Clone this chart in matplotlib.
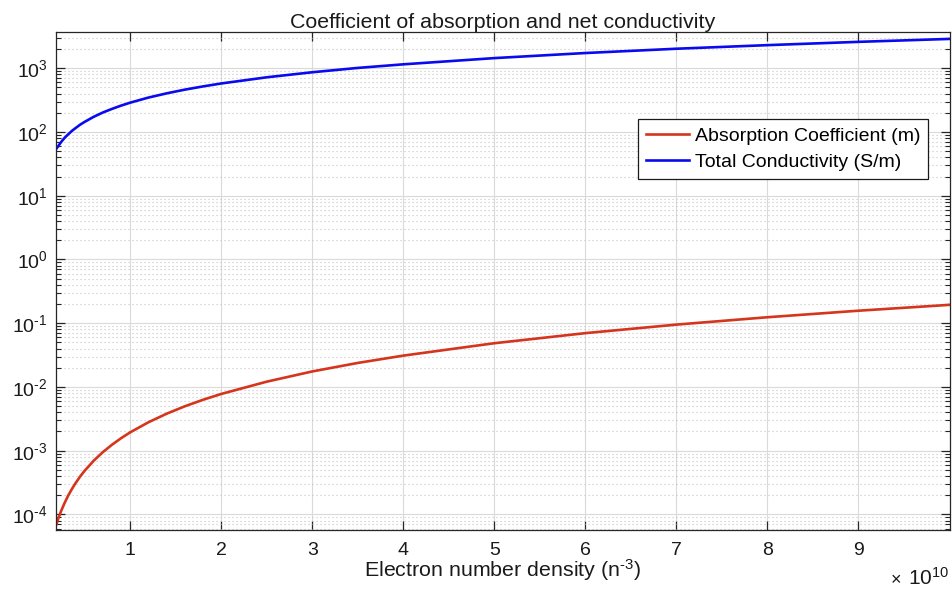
import matplotlib
matplotlib.use("Agg")
import numpy as np
import matplotlib.pyplot as plt
from matplotlib.ticker import LogLocator, FixedLocator, FuncFormatter, NullFormatter

plt.rcParams['font.family'] = ['Liberation Sans', 'DejaVu Sans']
plt.rcParams['mathtext.fontset'] = 'custom'
plt.rcParams['mathtext.rm'] = 'Liberation Sans'
plt.rcParams['mathtext.it'] = 'Liberation Sans:italic'
plt.rcParams['axes.unicode_minus'] = False

# Electron number density (in units of 1e10)
density_e10 = [0.19, 0.21, 0.23, 0.25, 0.28, 0.32, 0.36, 0.40, 0.45, 0.50,
               0.60, 0.70, 0.80, 0.90, 1.0, 1.2, 1.4, 1.6, 1.8, 2.0,
               2.5, 3.0, 3.5, 4.0, 5.0, 6.0, 7.0, 8.0, 9.0, 10.0]

absorption = [7.0e-5, 8.6e-5, 1.03e-4, 1.21e-4, 1.52e-4, 1.99e-4, 2.51e-4, 3.10e-4, 3.93e-4, 4.85e-4,
              6.98e-4, 9.5e-4, 1.24e-3, 1.57e-3, 1.94e-3, 2.79e-3, 3.80e-3, 4.97e-3, 6.29e-3, 7.76e-3,
              1.21e-2, 1.75e-2, 2.38e-2, 3.10e-2, 4.85e-2, 6.98e-2, 9.5e-2, 0.124, 0.157, 0.194]

conductivity = [55, 60, 66, 72, 81, 92, 104, 115, 130, 144,
                173, 202, 230, 259, 288, 346, 403, 461, 518, 576,
                720, 864, 1010, 1150, 1440, 1730, 2020, 2300, 2590, 2880]

x_ticks = [1, 2, 3, 4, 5, 6, 7, 8, 9]
scale = 1e10
density = [d * scale for d in density_e10]

fig = plt.figure(figsize=(9.52, 5.90), dpi=100)
ax = fig.add_axes([0.0593, 0.1017, 0.9381, 0.8441])

ax.plot(density, absorption, color='#d4351c', lw=1.9, label='Absorption Coefficient (m)')
ax.plot(density, conductivity, color='#0a0af0', lw=1.9, label='Total Conductivity (S/m)')

ax.set_yscale('log')
ax.set_xlim(0.19 * scale, 10.0 * scale)
ax.set_ylim(5.7e-5, 3.7e3)


def decade_label(v, pos):
    e = int(round(np.log10(v)))
    if e < 0:
        return r'$\mathdefault{10^{\text{-}%d}}$' % (-e)
    return r'$\mathdefault{10^{%d}}$' % e


ax.xaxis.set_major_locator(FixedLocator([t * scale for t in x_ticks]))
ax.xaxis.set_major_formatter(FuncFormatter(lambda v, _: f"{v / scale:g}"))
ax.yaxis.set_major_locator(LogLocator(base=10, numticks=20))
ax.yaxis.set_major_formatter(FuncFormatter(decade_label))
ax.yaxis.set_minor_locator(LogLocator(base=10, subs=range(2, 10), numticks=20))
ax.yaxis.set_minor_formatter(NullFormatter())
ax.xaxis.offsetText.set_visible(False)
ax.yaxis.offsetText.set_visible(False)

spine_col = '#262626'
for s in ax.spines.values():
    s.set_color(spine_col)
    s.set_linewidth(0.9)

ax.tick_params(which='both', direction='in', top=True, right=True, color=spine_col,
               labelsize=14, labelcolor='#1a1a1a')
ax.tick_params(which='major', length=6.5, width=0.9)
ax.tick_params(axis='x', which='major', pad=8.5)
ax.tick_params(axis='y', which='major', pad=6.5)
ax.tick_params(which='minor', length=3.6, width=0.8)

ax.grid(True, which='major', axis='both', color='#dadada', lw=0.8, ls='-')
ax.grid(True, which='minor', axis='y', color='#c4c4c4', lw=0.8, ls=(0, (1, 2.6)))
ax.set_axisbelow(True)

ax.set_title('Coefficient of absorption and net conductivity', fontsize=15.4, pad=2.5,
             color='#1a1a1a')
ax.set_xlabel(r'Electron number density (n$^{\text{-}3}$)', fontsize=15.4, labelpad=-1,
              color='#1a1a1a')
ax.text(0.9455, -0.111, '\u00d7', transform=ax.transAxes,
        ha='right', va='baseline', fontsize=13, color='#1a1a1a')
ax.text(1.0, -0.111, r'$\mathdefault{10^{10}}$', transform=ax.transAxes,
        ha='right', va='baseline', fontsize=15, color='#1a1a1a')

leg = ax.legend(loc='upper right', bbox_to_anchor=(0.976, 0.825), borderaxespad=0,
                fontsize=14, fancybox=False, framealpha=1, edgecolor='#1a1a1a',
                handlelength=2.2, handletextpad=0.3, borderpad=0.4, labelspacing=0.46)
leg.get_frame().set_linewidth(0.9)

fig.savefig('out.png', dpi=100)
